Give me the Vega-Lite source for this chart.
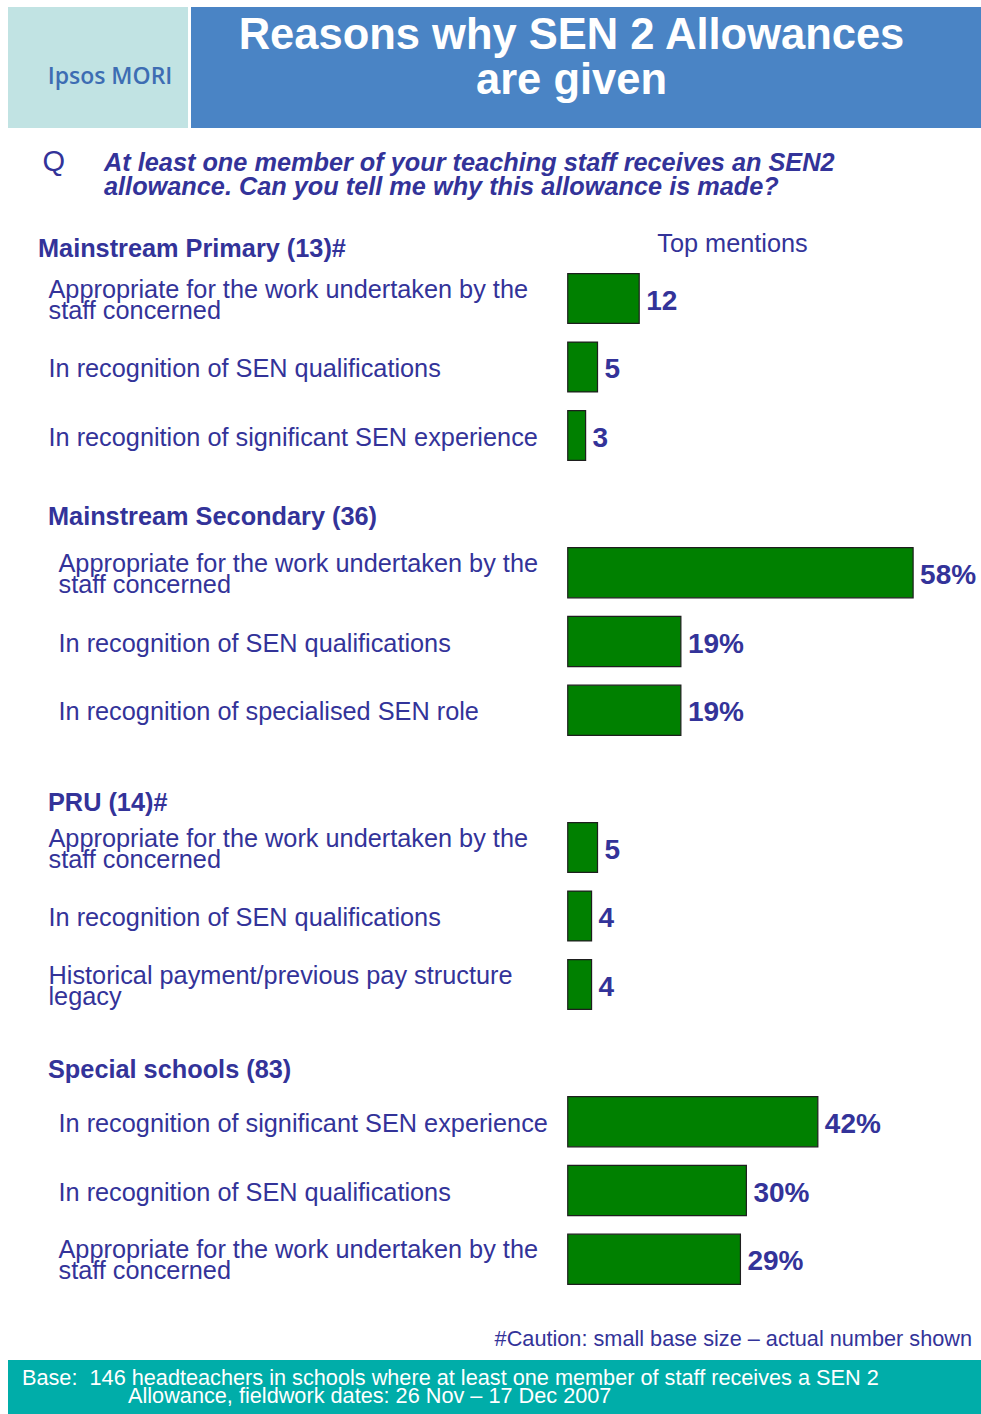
{
  "$schema": "https://vega.github.io/schema/vega-lite/v6.json",
  "background": "white",
  "padding": {"left": 8, "top": 7, "right": 0, "bottom": 0},
  "config": {"font": "Liberation Sans", "view": {"stroke": null}},
  "datasets": {
    "items": [
      {"group": "Primary", "rank": 1, "label": "Appropriate for the work undertaken by the|staff concerned", "value": 12, "shown": "12"},
      {"group": "Primary", "rank": 2, "label": "In recognition of SEN qualifications", "value": 5, "shown": "5"},
      {"group": "Primary", "rank": 3, "label": "In recognition of significant SEN experience", "value": 3, "shown": "3"},
      {"group": "Secondary", "rank": 1, "label": "Appropriate for the work undertaken by the|staff concerned", "value": 58, "shown": "58%"},
      {"group": "Secondary", "rank": 2, "label": "In recognition of SEN qualifications", "value": 19, "shown": "19%"},
      {"group": "Secondary", "rank": 3, "label": "In recognition of specialised SEN role", "value": 19, "shown": "19%"},
      {"group": "PRU", "rank": 1, "label": "Appropriate for the work undertaken by the|staff concerned", "value": 5, "shown": "5"},
      {"group": "PRU", "rank": 2, "label": "In recognition of SEN qualifications", "value": 4, "shown": "4"},
      {"group": "PRU", "rank": 3, "label": "Historical payment/previous pay structure|legacy", "value": 4, "shown": "4"},
      {"group": "Special", "rank": 1, "label": "In recognition of significant SEN experience", "value": 42, "shown": "42%"},
      {"group": "Special", "rank": 2, "label": "In recognition of SEN qualifications", "value": 30, "shown": "30%"},
      {"group": "Special", "rank": 3, "label": "Appropriate for the work undertaken by the|staff concerned", "value": 29, "shown": "29%"}
    ]
  },
  "spacing": 0,
  "resolve": {"scale": {"x": "independent", "y": "independent"}},
  "vconcat": [
    {
      "hconcat": [
        {
          "width": 180, "height": 121,
          "view": {"fill": "#c1e3e3", "stroke": null},
          "data": {"values": [{"t": "Ipsos MORI"}]},
          "mark": {"type": "text", "font": "Open Sans", "fontWeight": 600, "fontSize": 23, "color": "#3d6db3", "align": "center", "baseline": "alphabetic", "dx": 12, "dy": 16.5},
          "encoding": {"text": {"field": "t", "type": "nominal"}}
        },
        {
          "width": 790, "height": 121,
          "view": {"fill": "#4a84c5", "stroke": null},
          "data": {"values": [{"t": "Reasons why SEN 2 Allowances|are given"}]},
          "mark": {"type": "text", "lineBreak": "|", "fontSize": 43.5, "fontWeight": "bold", "color": "white", "align": "center", "baseline": "alphabetic", "lineHeight": 45, "dx": -14.5, "dy": -18.5},
          "encoding": {"text": {"field": "t", "type": "nominal"}}
        }
      ],
      "spacing": 3
    },
    {
      "width": 973, "height": 102,
      "layer": [
        {
          "data": {"values": [{"t": "Q"}]},
          "mark": {"type": "text", "fontSize": 29, "color": "#333399", "align": "left", "baseline": "alphabetic", "dx": -452, "dy": -8},
          "encoding": {"text": {"field": "t", "type": "nominal"}}
        },
        {
          "data": {"values": [{"t": "At least one member of your teaching staff receives an SEN2|allowance. Can you tell me why this allowance is made?"}]},
          "mark": {"type": "text", "lineBreak": "|", "fontSize": 25.3, "fontWeight": "bold", "fontStyle": "italic", "color": "#333399", "align": "left", "baseline": "alphabetic", "lineHeight": 24, "dx": -390.5, "dy": -8},
          "encoding": {"text": {"field": "t", "type": "nominal"}}
        }
      ]
    },
    {
      "width": 973, "height": 274,
      "layer": [
        {
          "data": {"name": "items"},
          "transform": [{"filter": "datum.group == 'Primary'"}],
          "mark": {"type": "bar", "color": "#008000", "stroke": "#1e1e1e", "strokeWidth": 1.2},
          "encoding": {
            "y": {"field": "label", "type": "nominal", "sort": null, "scale": {"paddingInner": 0.271, "paddingOuter": 0.6355},
              "axis": {"title": null, "domain": false, "ticks": false, "tickSize": 0, "grid": false, "minExtent": 0, "labelAlign": "left", "labelBaseline": "middle", "labelPadding": -40, "labelOffset": {"condition": {"test": "indexof(datum.value, '|') >= 0", "value": -9}, "value": 2}, "labelFontSize": 25.3, "labelColor": "#333399", "labelFont": "Liberation Sans", "labelLimit": 560, "labelLineHeight": 21, "labelOverlap": false, "labelExpr": "split(datum.label, '|')"}},
            "x": {"field": "value", "type": "quantitative", "scale": {"domain": [-94, 69.4], "nice": false, "zero": false}, "axis": null},
            "x2": {"datum": 0}
          }
        },
        {
          "data": {"name": "items"},
          "transform": [{"filter": "datum.group == 'Primary'"}],
          "mark": {"type": "text", "align": "left", "baseline": "middle", "dx": 7, "dy": 3, "fontSize": 28, "fontWeight": "bold", "color": "#333399"},
          "encoding": {
            "y": {"field": "label", "type": "nominal", "sort": null},
            "x": {"field": "value", "type": "quantitative"},
            "text": {"field": "shown", "type": "nominal"}
          }
        },
        {
          "data": {"values": [{"t": "Mainstream Primary (13)#"}]},
          "mark": {"type": "text", "fontSize": 25.3, "fontWeight": "bold", "color": "#333399", "align": "left", "baseline": "alphabetic", "dx": -456.5, "dy": -110.5},
          "encoding": {"text": {"field": "t", "type": "nominal"}}
        },
        {
          "data": {"values": [{"t": "Top mentions"}]},
          "mark": {"type": "text", "fontSize": 25.3, "color": "#333399", "align": "center", "baseline": "alphabetic", "dx": 238, "dy": -115.5},
          "encoding": {"text": {"field": "t", "type": "nominal"}}
        }
      ]
    },
    {
      "width": 973, "height": 275,
      "layer": [
        {
          "data": {"name": "items"},
          "transform": [{"filter": "datum.group == 'Secondary'"}],
          "mark": {"type": "bar", "color": "#008000", "stroke": "#1e1e1e", "strokeWidth": 1.2},
          "encoding": {
            "y": {"field": "label", "type": "nominal", "sort": null, "scale": {"paddingInner": 0.271, "paddingOuter": 0.6355},
              "axis": {"title": null, "domain": false, "ticks": false, "tickSize": 0, "grid": false, "minExtent": 0, "labelAlign": "left", "labelBaseline": "middle", "labelPadding": -50, "labelOffset": {"condition": {"test": "indexof(datum.value, '|') >= 0", "value": -9}, "value": 2}, "labelFontSize": 25.3, "labelColor": "#333399", "labelFont": "Liberation Sans", "labelLimit": 560, "labelLineHeight": 21, "labelOverlap": false, "labelExpr": "split(datum.label, '|')"}},
            "x": {"field": "value", "type": "quantitative", "scale": {"domain": [-94, 69.4], "nice": false, "zero": false}, "axis": null},
            "x2": {"datum": 0}
          }
        },
        {
          "data": {"name": "items"},
          "transform": [{"filter": "datum.group == 'Secondary'"}],
          "mark": {"type": "text", "align": "left", "baseline": "middle", "dx": 7, "dy": 3, "fontSize": 28, "fontWeight": "bold", "color": "#333399"},
          "encoding": {
            "y": {"field": "label", "type": "nominal", "sort": null},
            "x": {"field": "value", "type": "quantitative"},
            "text": {"field": "shown", "type": "nominal"}
          }
        },
        {
          "data": {"values": [{"t": "Mainstream Secondary (36)"}]},
          "mark": {"type": "text", "fontSize": 25.3, "fontWeight": "bold", "color": "#333399", "align": "left", "baseline": "alphabetic", "dx": -446.5, "dy": -117},
          "encoding": {"text": {"field": "t", "type": "nominal"}}
        }
      ]
    },
    {
      "width": 973, "height": 274,
      "layer": [
        {
          "data": {"name": "items"},
          "transform": [{"filter": "datum.group == 'PRU'"}],
          "mark": {"type": "bar", "color": "#008000", "stroke": "#1e1e1e", "strokeWidth": 1.2},
          "encoding": {
            "y": {"field": "label", "type": "nominal", "sort": null, "scale": {"paddingInner": 0.271, "paddingOuter": 0.6355},
              "axis": {"title": null, "domain": false, "ticks": false, "tickSize": 0, "grid": false, "minExtent": 0, "labelAlign": "left", "labelBaseline": "middle", "labelPadding": -40, "labelOffset": {"condition": {"test": "indexof(datum.value, '|') >= 0", "value": -9}, "value": 2}, "labelFontSize": 25.3, "labelColor": "#333399", "labelFont": "Liberation Sans", "labelLimit": 560, "labelLineHeight": 21, "labelOverlap": false, "labelExpr": "split(datum.label, '|')"}},
            "x": {"field": "value", "type": "quantitative", "scale": {"domain": [-94, 69.4], "nice": false, "zero": false}, "axis": null},
            "x2": {"datum": 0}
          }
        },
        {
          "data": {"name": "items"},
          "transform": [{"filter": "datum.group == 'PRU'"}],
          "mark": {"type": "text", "align": "left", "baseline": "middle", "dx": 7, "dy": 3, "fontSize": 28, "fontWeight": "bold", "color": "#333399"},
          "encoding": {
            "y": {"field": "label", "type": "nominal", "sort": null},
            "x": {"field": "value", "type": "quantitative"},
            "text": {"field": "shown", "type": "nominal"}
          }
        },
        {
          "data": {"values": [{"t": "PRU (14)#"}]},
          "mark": {"type": "text", "fontSize": 25.3, "fontWeight": "bold", "color": "#333399", "align": "left", "baseline": "alphabetic", "dx": -446.5, "dy": -105.5},
          "encoding": {"text": {"field": "t", "type": "nominal"}}
        }
      ]
    },
    {
      "width": 973, "height": 275,
      "layer": [
        {
          "data": {"name": "items"},
          "transform": [{"filter": "datum.group == 'Special'"}],
          "mark": {"type": "bar", "color": "#008000", "stroke": "#1e1e1e", "strokeWidth": 1.2},
          "encoding": {
            "y": {"field": "label", "type": "nominal", "sort": null, "scale": {"paddingInner": 0.271, "paddingOuter": 0.6355},
              "axis": {"title": null, "domain": false, "ticks": false, "tickSize": 0, "grid": false, "minExtent": 0, "labelAlign": "left", "labelBaseline": "middle", "labelPadding": -50, "labelOffset": {"condition": {"test": "indexof(datum.value, '|') >= 0", "value": -9}, "value": 2}, "labelFontSize": 25.3, "labelColor": "#333399", "labelFont": "Liberation Sans", "labelLimit": 560, "labelLineHeight": 21, "labelOverlap": false, "labelExpr": "split(datum.label, '|')"}},
            "x": {"field": "value", "type": "quantitative", "scale": {"domain": [-94, 69.4], "nice": false, "zero": false}, "axis": null},
            "x2": {"datum": 0}
          }
        },
        {
          "data": {"name": "items"},
          "transform": [{"filter": "datum.group == 'Special'"}],
          "mark": {"type": "text", "align": "left", "baseline": "middle", "dx": 7, "dy": 3, "fontSize": 28, "fontWeight": "bold", "color": "#333399"},
          "encoding": {
            "y": {"field": "label", "type": "nominal", "sort": null},
            "x": {"field": "value", "type": "quantitative"},
            "text": {"field": "shown", "type": "nominal"}
          }
        },
        {
          "data": {"values": [{"t": "Special schools (83)"}]},
          "mark": {"type": "text", "fontSize": 25.3, "fontWeight": "bold", "color": "#333399", "align": "left", "baseline": "alphabetic", "dx": -446.5, "dy": -113},
          "encoding": {"text": {"field": "t", "type": "nominal"}}
        }
      ]
    },
    {
      "width": 973, "height": 32,
      "data": {"values": [{"t": "#Caution: small base size – actual number shown"}]},
      "mark": {"type": "text", "fontSize": 21.7, "color": "#333399", "align": "right", "baseline": "alphabetic", "dx": 477.5, "dy": 2},
      "encoding": {"text": {"field": "t", "type": "nominal"}}
    },
    {
      "width": 973, "height": 54,
      "view": {"fill": "#00ada9", "stroke": null},
      "layer": [
        {
          "data": {"values": [{"t": "Base:\u00a0 146 headteachers in schools where at least one member of staff receives a SEN 2"}]},
          "mark": {"type": "text", "fontSize": 21.7, "color": "white", "align": "left", "baseline": "alphabetic", "dx": -472.5, "dy": -2.5},
          "encoding": {"text": {"field": "t", "type": "nominal"}}
        },
        {
          "data": {"values": [{"t": "Allowance, fieldwork dates: 26 Nov – 17 Dec 2007"}]},
          "mark": {"type": "text", "fontSize": 21.7, "color": "white", "align": "left", "baseline": "alphabetic", "dx": -366.5, "dy": 16},
          "encoding": {"text": {"field": "t", "type": "nominal"}}
        }
      ]
    }
  ]
}
